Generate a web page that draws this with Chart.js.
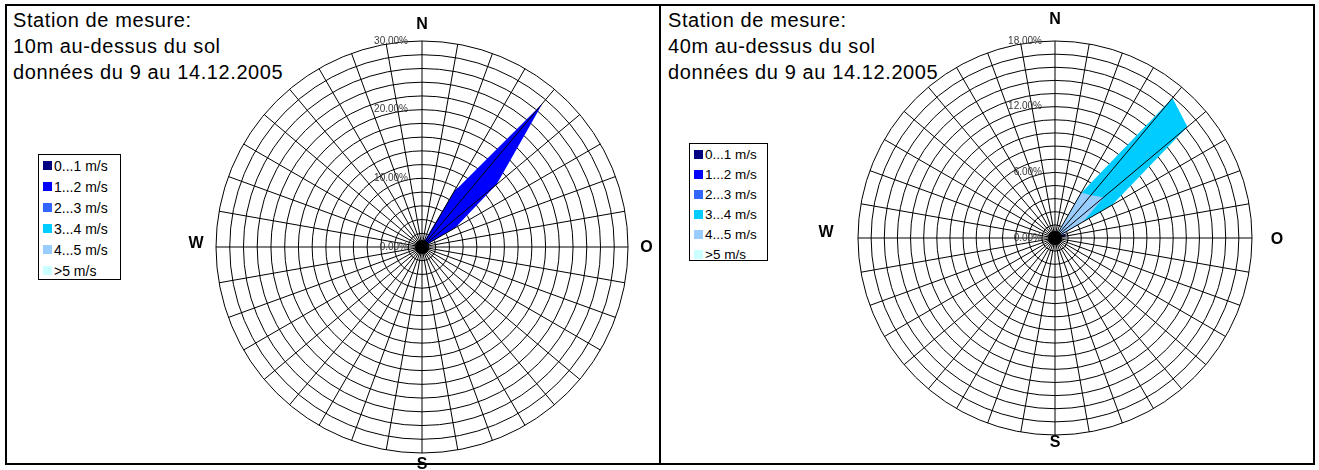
<!DOCTYPE html>
<html>
<head>
<meta charset="utf-8">
<script src="https://cdn.jsdelivr.net/npm/chart.js@4.4.1/dist/chart.umd.min.js"></script>
<style>
  body { margin: 0; width: 1319px; height: 470px; overflow: hidden; background: #fff; position: relative;
         font-family: "Liberation Sans", Arial, sans-serif; color: #000; }
  .panel { position: absolute; top: 4px; height: 457px; border: 2px solid #000; }
  #panel10 { left: 5px; width: 652px; }
  #panel40 { left: 659px; width: 652px; }
  canvas { position: absolute; top: 0; }
  #rose10 { left: 0; }
  #rose40 { left: 659px; }
  .title { position: absolute; top: 7px; font-size: 20px; line-height: 26px; letter-spacing: 0.6px; white-space: nowrap; }
  .legend { position: absolute; box-sizing: border-box; border: 1px solid #000; background: #fff; }
  .legend .row { position: absolute; white-space: nowrap; line-height: 16px; height: 16px; }
  .legend .sw { position: absolute; width: 9px; height: 9px; top: 3px; }
  .legend .tx { position: absolute; top: 0; }
</style>
</head>
<body>
<div class="panel" id="panel10"></div>
<div class="panel" id="panel40"></div>

<div class="title" style="left:13px">Station de mesure:<br>10m au-dessus du sol<br>données du 9 au 14.12.2005</div>
<div class="title" style="left:668px">Station de mesure:<br>40m au-dessus du sol<br>données du 9 au 14.12.2005</div>

<div class="legend" id="legend10" style="left:38px;top:154px;width:83px;height:126px;font-size:14px"></div>
<div class="legend" id="legend40" style="left:689px;top:143px;width:79px;height:118px;font-size:13.5px"></div>

<canvas id="rose10" width="659" height="470"></canvas>
<canvas id="rose40" width="660" height="470"></canvas>

<script>
// Wind directions in degrees, clockwise from north (36 sectors of 10°)
const directions = [0, 10, 20, 30, 40, 50, 60, 70, 80, 90, 100, 110,
                    120, 130, 140, 150, 160, 170, 180, 190, 200, 210, 220, 230,
                    240, 250, 260, 270, 280, 290, 300, 310, 320, 330, 340, 350];

// Wind speed classes
const speedClasses = ['0...1 m/s', '1...2 m/s', '2...3 m/s', '3...4 m/s', '4...5 m/s', '>5 m/s'];
const speedColors  = ['#000080', '#0000FF', '#3366FF', '#00CCFF', '#99CCFF', '#CCFFFF'];

// Frequency (%) per direction, 10 m above ground
const s01_10m  = [0, 0, 0.3, 9.6, 14.0, 5.0, 1.5, 0, 0, 0, 0, 0, 0, 0, 0, 0, 0, 0, 0, 0, 0, 0, 0, 0, 0, 0, 0, 0, 0, 0, 0, 0, 0, 0, 0, 0];
const s12_10m  = [0, 0, 0.8, 9.2, 27.3, 14.2, 5.6, 0.5, 0, 0, 0, 0, 0, 0, 0, 0, 0, 0, 0, 0, 0, 0, 0, 0, 0, 0, 0, 0, 0, 0, 0, 0, 0, 0, 0, 0];
const s23_10m  = [0, 0, 0, 0, 0, 0, 0, 0, 0, 0, 0, 0, 0, 0, 0, 0, 0, 0, 0, 0, 0, 0, 0, 0, 0, 0, 0, 0, 0, 0, 0, 0, 0, 0, 0, 0];
const s34_10m  = [0, 0, 0, 0, 0, 0, 0, 0, 0, 0, 0, 0, 0, 0, 0, 0, 0, 0, 0, 0, 0, 0, 0, 0, 0, 0, 0, 0, 0, 0, 0, 0, 0, 0, 0, 0];
const s45_10m  = [0, 0, 0, 0, 0, 0, 0, 0, 0, 0, 0, 0, 0, 0, 0, 0, 0, 0, 0, 0, 0, 0, 0, 0, 0, 0, 0, 0, 0, 0, 0, 0, 0, 0, 0, 0];
const s5p_10m  = [0, 0, 0, 0, 0, 0, 0, 0, 0, 0, 0, 0, 0, 0, 0, 0, 0, 0, 0, 0, 0, 0, 0, 0, 0, 0, 0, 0, 0, 0, 0, 0, 0, 0, 0, 0];

// Frequency (%) per direction, 40 m above ground
const s01_40m  = [0, 0, 0, 0, 0, 0, 0.5, 1.0, 1.0, 0, 0, 0, 0, 0, 0, 0, 0, 0, 0, 0, 0, 0, 0, 0, 0, 0, 0, 0, 0, 0, 0, 0, 0, 0, 0, 0];
const s12_40m  = [0, 0, 0, 0, 0, 0, 3.2, 0.3, 2.3, 0, 0, 0, 0, 0, 0, 0, 0, 0, 0, 0, 0, 0, 0, 0, 0, 0, 0, 0, 0, 0, 0, 0, 0, 0, 0, 0];
const s23_40m  = [0, 0, 0, 0, 0, 0, 0, 0, 0, 0, 0, 0, 0, 0, 0, 0, 0, 0, 0, 0, 0, 0, 0, 0, 0, 0, 0, 0, 0, 0, 0, 0, 0, 0, 0, 0];
const s34_40m  = [0, 0, 0, 4.7, 16.7, 15.8, 6.0, 0, 0, 0, 0, 0, 0, 0, 0, 0, 0, 0, 0, 0, 0, 0, 0, 0, 0, 0, 0, 0, 0, 0, 0, 0, 0, 0, 0, 0];
const s45_40m  = [0, 0, 0, 4.8, 5.1, 5.8, 3.0, 0, 0, 0, 0, 0, 0, 0, 0, 0, 0, 0, 0, 0, 0, 0, 0, 0, 0, 0, 0, 0, 0, 0, 0, 0, 0, 0, 0, 0];
const s5p_40m  = [0, 0, 0, 0, 0, 0, 0, 0, 0, 0, 0, 0, 0, 0, 0, 0, 0, 0, 0, 0, 0, 0, 0, 0, 0, 0, 0, 0, 0, 0, 0, 0, 0, 0, 0, 0];

// Radial axis: labelled values and their texts
const tickValues10m = [0, 10, 20, 30];
const tickLabels10m = ['0.00%', '10.00%', '20.00%', '30.00%'];
const tickValues40m = [0, 6, 12, 18];
const tickLabels40m = ['0.00%', '6.00%', '12.00%', '18.00%'];

// Cardinal points (north, east, south, west)
const cardinals = ['N', 'O', 'S', 'W'];

function buildLegend(el, rowTop, rowStep) {
  speedClasses.forEach((name, i) => {
    const row = document.createElement('div');
    row.className = 'row';
    row.style.left = '0px';
    row.style.top = (rowTop + i * rowStep) + 'px';
    const sw = document.createElement('span');
    sw.className = 'sw';
    sw.style.left = '4px';
    sw.style.background = speedColors[i];
    const tx = document.createElement('span');
    tx.className = 'tx';
    tx.style.left = '15px';
    tx.textContent = name;
    row.appendChild(sw);
    row.appendChild(tx);
    el.appendChild(row);
  });
}
buildLegend(document.getElementById('legend10'), 3, 20.9);
buildLegend(document.getElementById('legend40'), 3, 19.9);

// Spokes on top of the filled areas, hub, radial labels and compass letters
const roseOverlay = {
  id: 'roseOverlay',
  afterDatasetsDraw(chart, args, opts) {
    const s = chart.scales.r;
    const ctx = chart.ctx;
    ctx.save();
    ctx.strokeStyle = '#000';
    ctx.lineWidth = 1;
    ctx.beginPath();
    for (let i = 0; i < chart.data.labels.length; i++) {
      const p = s.getPointPositionForValue(i, s.max);
      ctx.moveTo(s.xCenter, s.yCenter);
      ctx.lineTo(p.x, p.y);
    }
    ctx.stroke();

    ctx.fillStyle = '#000';
    ctx.beginPath();
    ctx.arc(s.xCenter, s.yCenter, opts.hub, 0, Math.PI * 2);
    ctx.fill();

    ctx.font = '10px "Liberation Sans", Arial, sans-serif';
    ctx.fillStyle = '#3a3a3a';
    ctx.textAlign = 'right';
    ctx.textBaseline = 'middle';
    opts.tickValues.forEach((v, k) => {
      const d = s.getDistanceFromCenterForValue(v);
      ctx.fillText(opts.tickLabels[k], s.xCenter - opts.tickGap, s.yCenter - d);
    });

    const R = s.drawingArea;
    const g = opts.cardinalGap;
    ctx.font = 'bold 16px "Liberation Sans", Arial, sans-serif';
    ctx.fillStyle = '#000';
    ctx.textAlign = 'center';
    ctx.textBaseline = 'middle';
    ctx.fillText(cardinals[0], s.xCenter, s.yCenter - R - g[0]);
    ctx.fillText(cardinals[1], s.xCenter + R + g[1], s.yCenter + g[4]);
    ctx.fillText(cardinals[2], s.xCenter, s.yCenter + R + g[2]);
    ctx.fillText(cardinals[3], s.xCenter - R - g[3], s.yCenter + g[5]);
    ctx.restore();
  }
};

function roseDatasets(series) {
  return series.map((values, i) => ({
    label: speedClasses[i],
    data: values,
    backgroundColor: speedColors[i],
    borderColor: speedColors[i],
    borderWidth: 0,
    pointRadius: 0,
    fill: 'origin',
    order: series.length - 1 - i
  }));
}

function makeRose(id, series, max, step, padding, overlay) {
  return new Chart(document.getElementById(id), {
    type: 'radar',
    data: { labels: directions, datasets: roseDatasets(series) },
    options: {
      responsive: false,
      animation: false,
      devicePixelRatio: 1,
      layout: { padding },
      elements: { line: { tension: 0 } },
      plugins: { legend: { display: false }, tooltip: { enabled: false }, roseOverlay: overlay },
      scales: {
        r: {
          min: 0,
          max,
          ticks: { display: false, stepSize: step },
          grid: { circular: true, color: '#000', lineWidth: 1 },
          angleLines: { display: false },
          pointLabels: { display: false }
        }
      }
    },
    plugins: [roseOverlay]
  });
}

makeRose('rose10',
  [s01_10m, s12_10m, s23_10m, s34_10m, s45_10m, s5p_10m],
  30, 2,
  { left: 216, right: 31, top: 41, bottom: 17 },
  { hub: 7, tickGap: 14, tickValues: tickValues10m, tickLabels: tickLabels10m, cardinalGap: [16, 18.5, 11.7, 20, 1, -3] });

makeRose('rose40',
  [s01_40m, s12_40m, s23_40m, s34_40m, s45_40m, s5p_40m],
  18, 1.2,
  { left: 199, right: 67, top: 41, bottom: 35 },
  { hub: 7, tickGap: 13, tickValues: tickValues40m, tickLabels: tickLabels40m, cardinalGap: [21.6, 25, 8, 32, 2, -5] });
</script>
</body>
</html>
